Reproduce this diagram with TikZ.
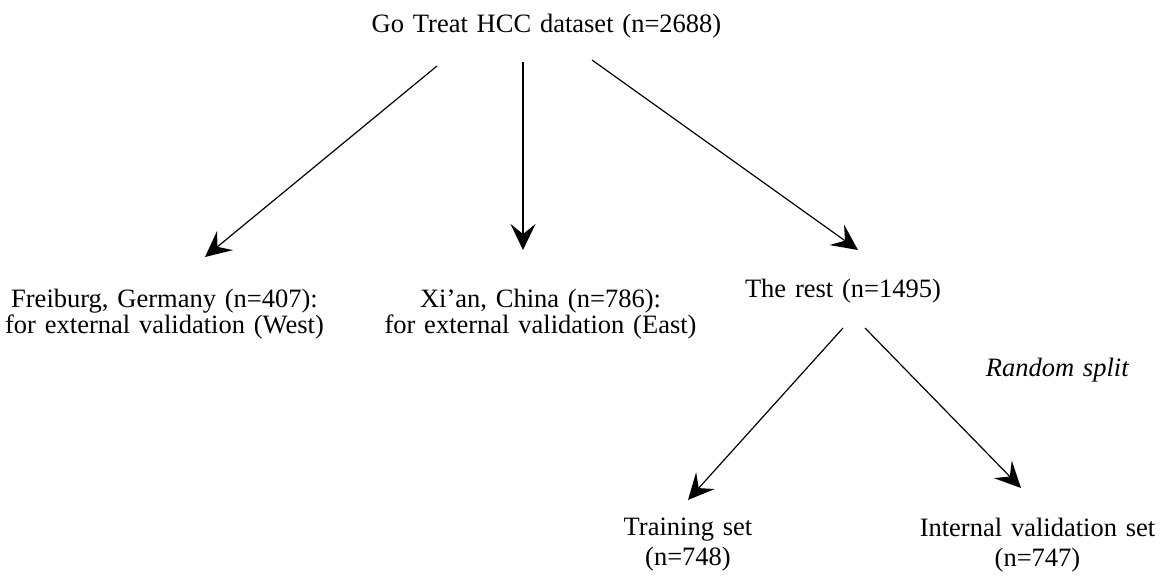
\documentclass[tikz,border=0pt]{standalone}
\usepackage{fontspec}
\setmainfont{Liberation Serif}
\usetikzlibrary{arrows.meta}
\begin{document}
\begin{tikzpicture}[x=1pt,y=-1pt,
  lbl/.style={inner sep=0pt, anchor=base, align=center, text width=360pt,
    font=\fontsize{26.5}{26}\selectfont},
  lblwide/.style={lbl, font=\fontsize{26.5}{30}\selectfont},
  arr/.style={-{Stealth[length=26pt,width=25pt,inset=10pt]}, line width=1.2pt}]
\useasboundingbox (0,0) rectangle (1165,585);
\fill[white] (0,0) rectangle (1165,585);
\node[lbl] (root) at (546.5,33) {Go Treat HCC dataset (n=2688)};
\node[lbl] (frei) at (164.5,308) {Freiburg, Germany (n=407):\\for external validation (West)};
\node[lbl] (xian) at (540.5,308) {Xi’an, China (n=786):\\for external validation (East)};
\node[lbl] (rest) at (843,298) {The rest (n=1495)};
\node[lbl] (split) at (1057.5,377) {\textit{Random split}};
\node[lblwide] (train) at (688,535) {Training set\\(n=748)};
\node[lblwide] (intval) at (1037.5,536) {Internal validation set\\(n=747)};
\coordinate (a1s) at (437,66);  \coordinate (a1e) at (205,257);
\coordinate (a2s) at (523,62);  \coordinate (a2e) at (523,250);
\coordinate (a3s) at (592,60);  \coordinate (a3e) at (858,250);
\coordinate (a4s) at (843,328); \coordinate (a4e) at (688,500);
\coordinate (a5s) at (865,328); \coordinate (a5e) at (1021,488);
\draw[arr] (a1s) -- (a1e);
\draw[arr] (a2s) -- (a2e);
\draw[arr] (a3s) -- (a3e);
\draw[arr] (a4s) -- (a4e);
\draw[arr] (a5s) -- (a5e);
\end{tikzpicture}
\end{document}
